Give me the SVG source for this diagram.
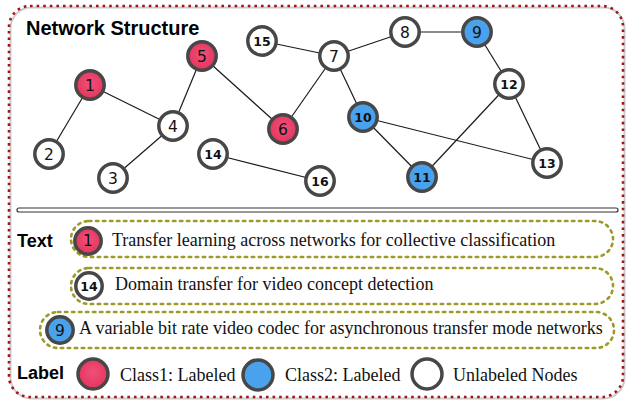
<svg xmlns="http://www.w3.org/2000/svg" width="634" height="400" viewBox="0 0 634 400">
<defs>
<radialGradient id="gr" cx="50%" cy="45%" r="60%"><stop offset="0" stop-color="#F0507A"/><stop offset="1" stop-color="#E2325A"/></radialGradient>
<style>
.frame{fill:none;stroke:#A11616;stroke-width:2.6;stroke-dasharray:2.6 4}
.box{fill:none;stroke:#9E9A28;stroke-width:2.6;stroke-dasharray:2.4 4.6;stroke-linecap:round}
.e{stroke:#1a1a1a;stroke-width:1.2}
.n{stroke:#474747;stroke-width:3.5}
.red{fill:url(#gr)}
.blue{fill:#4BA2EC}
.white{fill:#fff}
.d1{font-family:"DejaVu Sans",sans-serif;font-size:15.5px;fill:#111;text-anchor:middle}
.d2{font-family:"DejaVu Sans",sans-serif;font-size:12.5px;font-weight:bold;fill:#111;text-anchor:middle}
.hd{font-family:"Liberation Sans",Arial,sans-serif;font-weight:bold;fill:#000}
.tx{font-family:"Liberation Serif","Times New Roman",serif;font-size:18px;fill:#111}
</style>
</defs>
<rect x="0" y="0" width="634" height="400" fill="#fff"/>
<rect x="10.5" y="7.5" width="614" height="391" rx="21" fill="none" stroke="#ccc" stroke-width="2"/>
<rect class="frame" x="9" y="6" width="614" height="391" rx="21"/>
<text class="hd" x="26" y="35" font-size="20">Network Structure</text>
<g id="connectors">
<line class="e" x1="90" y1="85" x2="49" y2="154"/>
<line class="e" x1="90" y1="85" x2="173" y2="126"/>
<line class="e" x1="173" y1="126" x2="113" y2="178"/>
<line class="e" x1="173" y1="126" x2="202" y2="56"/>
<line class="e" x1="202" y1="56" x2="283" y2="129"/>
<line class="e" x1="283" y1="129" x2="334" y2="56"/>
<line class="e" x1="262" y1="41" x2="334" y2="56"/>
<line class="e" x1="334" y1="56" x2="405" y2="32"/>
<line class="e" x1="405" y1="32" x2="477" y2="32"/>
<line class="e" x1="334" y1="56" x2="363" y2="117"/>
<line class="e" x1="477" y1="32" x2="509" y2="84"/>
<line class="e" x1="509" y1="84" x2="422" y2="177"/>
<line class="e" x1="509" y1="84" x2="547" y2="163"/>
<line class="e" x1="363" y1="117" x2="422" y2="177"/>
<line class="e" x1="363" y1="117" x2="547" y2="163"/>
<line class="e" x1="213" y1="154" x2="320" y2="181"/>
</g>
<g id="n1"><circle class="n red" cx="90" cy="85" r="14.2"/><text class="d1" x="90" y="90.5">1</text></g>
<g id="n2"><circle class="n white" cx="49" cy="154" r="14.2"/><text class="d1" x="49" y="159.5">2</text></g>
<g id="n3"><circle class="n white" cx="113" cy="178" r="14.2"/><text class="d1" x="113" y="183.5">3</text></g>
<g id="n4"><circle class="n white" cx="173" cy="126" r="14.2"/><text class="d1" x="173" y="131.5">4</text></g>
<g id="n5"><circle class="n red" cx="202" cy="56" r="14.2"/><text class="d1" x="202" y="61.5">5</text></g>
<g id="n6"><circle class="n red" cx="283" cy="129" r="14.2"/><text class="d1" x="283" y="134.5">6</text></g>
<g id="n7"><circle class="n white" cx="334" cy="56" r="14.2"/><text class="d1" x="334" y="61.5">7</text></g>
<g id="n8"><circle class="n white" cx="405" cy="32" r="14.2"/><text class="d1" x="405" y="37.5">8</text></g>
<g id="n9"><circle class="n blue" cx="477" cy="32" r="14.2"/><text class="d1" x="477" y="37.5">9</text></g>
<g id="n10"><circle class="n blue" cx="363" cy="117" r="14.2"/><text class="d2" x="363" y="121.5">10</text></g>
<g id="n11"><circle class="n blue" cx="422" cy="177" r="14.2"/><text class="d2" x="422" y="181.5">11</text></g>
<g id="n12"><circle class="n white" cx="509" cy="84" r="14.2"/><text class="d2" x="509" y="88.5">12</text></g>
<g id="n13"><circle class="n white" cx="547" cy="163" r="14.2"/><text class="d2" x="547" y="167.5">13</text></g>
<g id="n14"><circle class="n white" cx="213" cy="154" r="14.2"/><text class="d2" x="213" y="158.5">14</text></g>
<g id="n15"><circle class="n white" cx="262" cy="41" r="14.2"/><text class="d2" x="262" y="45.5">15</text></g>
<g id="n16"><circle class="n white" cx="320" cy="181" r="14.2"/><text class="d2" x="320" y="185.5">16</text></g>
<rect x="17" y="208" width="601" height="4" rx="2" fill="#fff" stroke="#333" stroke-width="1.2"/>
<text class="hd" x="17" y="247" font-size="18">Text</text>
<g id="text1">
<rect class="box" x="71" y="221" width="542" height="36" rx="18"/>
<circle class="n red" cx="88" cy="241" r="13.2"/><text class="d1" x="88" y="246">1</text>
<text class="tx" x="112" y="246">Transfer learning across networks for collective classification</text>
</g>
<g id="text2">
<rect class="box" x="71" y="268" width="542" height="36" rx="18"/>
<circle class="n white" cx="89" cy="286" r="13.2"/><text class="d2" x="89" y="290.5">14</text>
<text class="tx" x="115" y="290">Domain transfer for video concept detection</text>
</g>
<g id="text3">
<rect class="box" x="40" y="312" width="574" height="36" rx="18"/>
<circle class="n blue" cx="60" cy="330" r="13.2"/><text class="d1" x="60" y="335.5">9</text>
<text class="tx" x="79" y="334">A variable bit rate video codec for asynchronous transfer mode networks</text>
</g>
<text class="hd" x="17" y="379" font-size="18">Label</text>
<g id="legend">
<circle class="n red" cx="93" cy="374" r="15"/>
<text class="tx" x="120" y="381">Class1: Labeled</text>
<circle class="n blue" cx="258" cy="375" r="15"/>
<text class="tx" x="285" y="381">Class2: Labeled</text>
<circle class="n white" cx="427" cy="374" r="15"/>
<text class="tx" x="453" y="381">Unlabeled Nodes</text>
</g>
</svg>
